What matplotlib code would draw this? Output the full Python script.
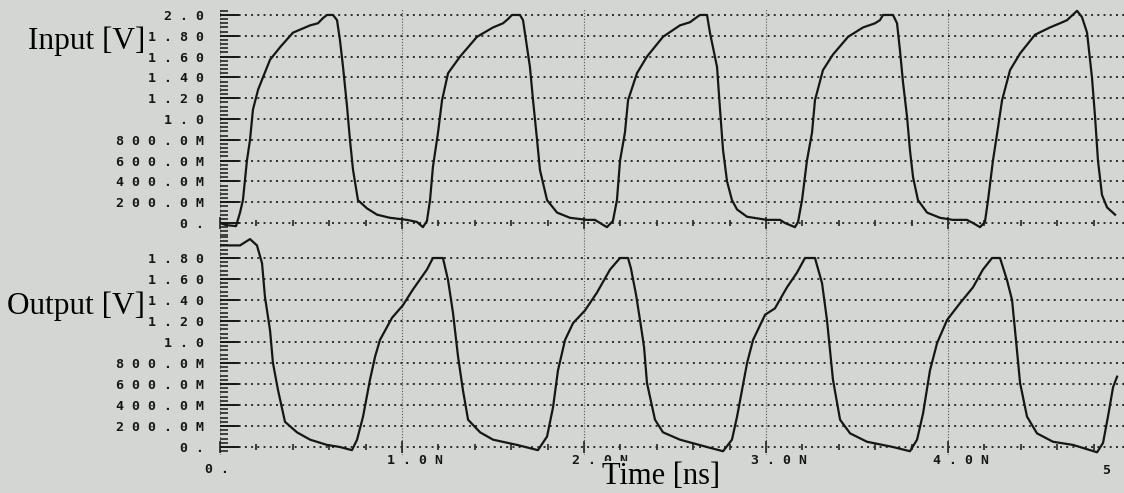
import numpy as np
import matplotlib.pyplot as plt
from matplotlib.ticker import MultipleLocator

# input waveform (time in ns, volts)
t_in = [0.000, 0.033, 0.088, 0.110, 0.126, 0.148, 0.165, 0.181, 0.209, 0.236,
        0.275, 0.330, 0.401, 0.495, 0.538, 0.566, 0.588, 0.621, 0.643, 0.659,
        0.676, 0.698, 0.714, 0.731, 0.758, 0.808, 0.863, 0.934, 1.027, 1.082,
        1.115, 1.137, 1.154, 1.170, 1.198, 1.220, 1.253, 1.319, 1.412, 1.500,
        1.555, 1.582, 1.604, 1.648, 1.665, 1.703, 1.720, 1.742, 1.758, 1.797,
        1.852, 1.923, 2.016, 2.060, 2.088, 2.126, 2.159, 2.181, 2.198, 2.225,
        2.242, 2.291, 2.346, 2.434, 2.527, 2.582, 2.621, 2.637, 2.676, 2.692,
        2.731, 2.747, 2.764, 2.786, 2.813, 2.841, 2.896, 3.005, 3.077, 3.104,
        3.159, 3.176, 3.198, 3.225, 3.253, 3.269, 3.313, 3.368, 3.451, 3.533,
        3.599, 3.626, 3.643, 3.698, 3.720, 3.736, 3.753, 3.775, 3.791, 3.808,
        3.835, 3.885, 3.956, 4.027, 4.104, 4.137, 4.176, 4.203, 4.220, 4.247,
        4.275, 4.297, 4.341, 4.396, 4.478, 4.560, 4.615, 4.654, 4.709, 4.736,
        4.764, 4.791, 4.808, 4.824, 4.846, 4.874, 4.918]
v_in = [0.00, -0.02, -0.03, 0.10, 0.22, 0.60, 0.80, 1.09, 1.28, 1.40,
        1.57, 1.69, 1.83, 1.90, 1.92, 1.97, 2.00, 2.00, 1.95, 1.76,
        1.50, 1.12, 0.80, 0.51, 0.22, 0.14, 0.08, 0.05, 0.03, 0.01,
        -0.04, 0.02, 0.22, 0.54, 0.87, 1.18, 1.44, 1.60, 1.79, 1.88,
        1.92, 1.96, 2.00, 2.00, 1.95, 1.50, 1.18, 0.80, 0.51, 0.22,
        0.10, 0.05, 0.03, 0.03, 0.00, -0.04, 0.02, 0.22, 0.60, 0.87,
        1.18, 1.44, 1.60, 1.79, 1.90, 1.93, 1.98, 2.00, 2.00, 1.83,
        1.50, 1.10, 0.70, 0.40, 0.22, 0.13, 0.06, 0.03, 0.03, 0.00,
        -0.04, 0.01, 0.22, 0.60, 0.87, 1.18, 1.47, 1.62, 1.79, 1.88,
        1.92, 1.95, 2.00, 2.00, 1.92, 1.66, 1.35, 1.02, 0.70, 0.44,
        0.22, 0.10, 0.05, 0.03, 0.03, 0.00, -0.04, 0.01, 0.22, 0.60,
        0.92, 1.18, 1.47, 1.63, 1.81, 1.88, 1.92, 1.95, 2.04, 1.98,
        1.83, 1.40, 1.02, 0.60, 0.27, 0.15, 0.08]

# output waveform
t_out = [0.000, 0.110, 0.165, 0.203, 0.231, 0.247, 0.275, 0.291, 0.319, 0.357,
         0.423, 0.495, 0.588, 0.659, 0.725, 0.753, 0.786, 0.824, 0.852, 0.879,
         0.945, 1.005, 1.060, 1.137, 1.170, 1.225, 1.253, 1.280, 1.308, 1.335,
         1.363, 1.429, 1.500, 1.632, 1.747, 1.797, 1.830, 1.857, 1.896, 1.940,
         2.005, 2.071, 2.143, 2.198, 2.242, 2.258, 2.286, 2.313, 2.330, 2.346,
         2.390, 2.434, 2.527, 2.676, 2.764, 2.813, 2.841, 2.896, 2.929, 2.995,
         3.049, 3.115, 3.170, 3.214, 3.269, 3.308, 3.335, 3.368, 3.407, 3.462,
         3.555, 3.698, 3.791, 3.830, 3.863, 3.901, 3.940, 3.995, 4.066, 4.137,
         4.192, 4.242, 4.286, 4.324, 4.352, 4.379, 4.396, 4.434, 4.489, 4.577,
         4.687, 4.819, 4.852, 4.879, 4.907, 4.929]
v_out = [1.92, 1.92, 1.98, 1.92, 1.75, 1.43, 1.11, 0.80, 0.54, 0.24,
         0.14, 0.07, 0.02, 0.00, -0.03, 0.07, 0.29, 0.64, 0.86, 1.02,
         1.23, 1.35, 1.50, 1.69, 1.80, 1.80, 1.59, 1.28, 0.86, 0.54,
         0.26, 0.14, 0.07, 0.02, -0.03, 0.10, 0.38, 0.73, 1.02, 1.18,
         1.30, 1.47, 1.69, 1.80, 1.80, 1.70, 1.45, 1.15, 0.95, 0.61,
         0.26, 0.14, 0.07, 0.00, -0.04, 0.07, 0.29, 0.80, 1.02, 1.26,
         1.32, 1.52, 1.66, 1.80, 1.80, 1.56, 1.21, 0.64, 0.26, 0.13,
         0.05, 0.00, -0.04, 0.07, 0.32, 0.73, 0.99, 1.21, 1.37, 1.52,
         1.69, 1.80, 1.80, 1.59, 1.40, 0.92, 0.61, 0.29, 0.13, 0.05,
         0.02, -0.05, 0.04, 0.29, 0.57, 0.67]

y_ticks_in = [0.0, 0.2, 0.4, 0.6, 0.8, 1.0, 1.2, 1.4, 1.6, 1.8, 2.0]
y_labels_in = ["0 .", "2 0 0 . 0 M", "4 0 0 . 0 M", "6 0 0 . 0 M", "8 0 0 . 0 M",
               "1 . 0", "1 . 2 0", "1 . 4 0", "1 . 6 0", "1 . 8 0", "2 . 0"]
y_ticks_out = y_ticks_in[:-1]
y_labels_out = y_labels_in[:-1]
x_ticks = [0, 1, 2, 3, 4, 5]
x_labels = ["0 .", "1 . 0 N", "2 . 0 N", "3 . 0 N", "4 . 0 N", "5"]

bg = "#d4d6d3"
ink = "#161616"
W, H = 1124, 493
mono = dict(family="DejaVu Sans Mono", weight="bold", size=9.5, color=ink)

fig = plt.figure(figsize=(W / 100, H / 100), dpi=100, facecolor=bg)


def make_axes(top_px, bot_px, v_top, v_bot, ticks, labels):
    ax = fig.add_axes([220 / W, 1 - bot_px / H, 910 / W, (bot_px - top_px) / H])
    ax.set_facecolor("none")
    ax.set_xlim(0, 5)
    ax.set_ylim(v_bot, v_top)
    for s in ax.spines.values():
        s.set_visible(False)
    ax.spines["bottom"].set_position(("data", 0))

    ax.set_yticks(ticks)
    ax.set_yticklabels(labels, **mono)
    ax.yaxis.set_minor_locator(MultipleLocator(0.04))
    ax.tick_params(axis="y", which="major", direction="in", length=13.5, width=1.4,
                   pad=11.5, color=ink)
    ax.tick_params(axis="y", which="minor", direction="in", length=6, width=1.1, color=ink)

    ax.set_xticks(x_ticks)
    ax.set_xticklabels([])
    ax.xaxis.set_minor_locator(MultipleLocator(0.2))
    ax.tick_params(axis="x", which="major", direction="inout", length=8, width=1.1, color=ink)
    ax.tick_params(axis="x", which="minor", direction="inout", length=4, width=1.1, color=ink)

    ax.grid(axis="y", which="major", linestyle=(0, (1, 2.2)), linewidth=1.4, color="#2c2c2c")
    ax.grid(axis="x", which="major", linestyle=(0, (1, 1.6)), linewidth=0.8, color="#555555")
    return ax


ax1 = make_axes(8, 236, 2.067, -0.125, y_ticks_in, y_labels_in)
ax2 = make_axes(237, 455, 2.0, -0.076, y_ticks_out, y_labels_out)

ax1.plot(t_in, v_in, color=ink, linewidth=1.6)
ax2.plot(t_out, v_out, color=ink, linewidth=1.6)

# time labels sit left-aligned just left of each tick
x_dx = [-15, -15, -12, -15, -15, -28]
x_dy = [-16, -7, -7, -7, -7, -17]
for t, lab, dx, dy in zip(x_ticks, x_labels, x_dx, x_dy):
    ax2.annotate(lab, xy=(t, 0), xycoords="data", xytext=(dx, dy),
                 textcoords="offset pixels", ha="left", va="top",
                 annotation_clip=False, **mono)

serif = "Liberation Serif"
fig.text(145 / W, 1 - 41 / H, "Input [V]", ha="right", va="center", family=serif, size=22.5)
fig.text(145 / W, 1 - 306 / H, "Output [V]", ha="right", va="center", family=serif, size=22.5)
# the axis title is pasted over the "2.0N" label, hiding its lower half
fig.text(602 / W, 1 - 477 / H, "Time [ns]", ha="left", va="center", family=serif, size=22,
         bbox=dict(boxstyle="square,pad=0.05", facecolor=bg, edgecolor="none"), zorder=5)

fig.savefig("out.png", dpi=100, facecolor=bg)
